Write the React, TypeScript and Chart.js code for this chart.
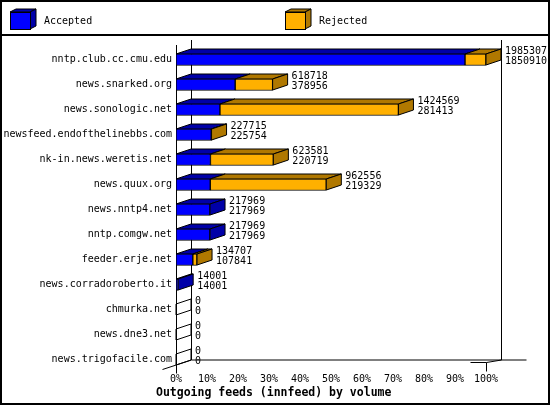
import { useEffect, useRef } from "react";
import { Chart, registerables } from "chart.js";

Chart.register(...registerables);

// feeds, offered articles (top number) and accepted articles (bottom number)
const hosts = [
  "nntp.club.cc.cmu.edu",
  "news.snarked.org",
  "news.sonologic.net",
  "newsfeed.endofthelinebbs.com",
  "nk-in.news.weretis.net",
  "news.quux.org",
  "news.nntp4.net",
  "nntp.comgw.net",
  "feeder.erje.net",
  "news.corradoroberto.it",
  "chmurka.net",
  "news.dne3.net",
  "news.trigofacile.com",
];
const offered = [1985307, 618718, 1424569, 227715, 623581, 962556, 217969, 217969, 134707, 14001, 0, 0, 0];
const accepted = [1850910, 378956, 281413, 225754, 220719, 219329, 217969, 217969, 107841, 14001, 0, 0, 0];
const xTicks = [0, 10, 20, 30, 40, 50, 60, 70, 80, 90, 100];

const seriesNames = ["Accepted", "Rejected"];
const frontColors = ["#0000ff", "#ffb000"];
const darkColors = ["#0000a8", "#b07800"];

const DX = 15;
const DY = 5;
const MONO = '"DejaVu Sans Mono", "Liberation Mono", monospace';

const maxOffered = Math.max(...offered);
const acceptedPct = accepted.map((v) => (v / maxOffered) * 100);
const rejectedPct = offered.map((v, i) => ((v - accepted[i]) / maxOffered) * 100);

function poly(ctx: CanvasRenderingContext2D, pts: number[][], fill: string | null) {
  ctx.beginPath();
  ctx.moveTo(pts[0][0], pts[0][1]);
  for (let k = 1; k < pts.length; k++) ctx.lineTo(pts[k][0], pts[k][1]);
  ctx.closePath();
  if (fill) {
    ctx.fillStyle = fill;
    ctx.fill();
  }
  ctx.stroke();
}

function cube(ctx: CanvasRenderingContext2D, x: number, y: number, w: number, h: number, front: string, dark: string) {
  const d = 6;
  const e = 3;
  ctx.strokeStyle = "#000";
  ctx.lineWidth = 1;
  poly(ctx, [[x, y], [x + w, y], [x + w + d, y - e], [x + d, y - e]], dark);
  poly(ctx, [[x + w, y], [x + w + d, y - e], [x + w + d, y + h - e], [x + w, y + h]], dark);
  ctx.fillStyle = front;
  ctx.fillRect(x, y, w, h);
  ctx.strokeRect(x + 0.5, y + 0.5, w, h);
}

const frame3d = {
  id: "frame3d",
  beforeDraw(chart: any) {
    const ctx: CanvasRenderingContext2D = chart.ctx;
    ctx.save();
    ctx.fillStyle = "#fff";
    ctx.fillRect(0, 0, chart.width, chart.height);
    ctx.restore();
  },
  beforeDatasetsDraw(chart: any) {
    const ctx: CanvasRenderingContext2D = chart.ctx;
    const { left, right, bottom } = chart.chartArea;
    const floor = Math.round(bottom) - 7.5;
    const L = Math.round(left) + 0.5;
    const R = Math.round(right) + 0.5;
    ctx.save();
    ctx.strokeStyle = "#000";
    ctx.lineWidth = 1;
    ctx.beginPath();
    // front left wall edge
    ctx.moveTo(L, 45);
    ctx.lineTo(L, floor + 9);
    // back walls
    ctx.moveTo(L + DX, 40);
    ctx.lineTo(L + DX, floor + 0.5 - 5);
    ctx.moveTo(R + DX, 40);
    ctx.lineTo(R + DX, floor + 0.5 - 5);
    // back floor
    ctx.moveTo(L + DX, floor - 4.5);
    ctx.lineTo(R + DX + 25, floor - 4.5);
    // slanted floor edges
    ctx.moveTo(L - 14, floor + 5);
    ctx.lineTo(L + DX, floor - 4.5);
    ctx.moveTo(R - 16, floor - 2);
    ctx.lineTo(R, floor - 2);
    ctx.lineTo(R + DX, floor - 4.5);
    ctx.moveTo(R, floor - 2);
    ctx.lineTo(R, floor + 7);
    ctx.stroke();
    ctx.restore();
  },
  afterDatasetsDraw(chart: any) {
    const ctx: CanvasRenderingContext2D = chart.ctx;
    const metaA = chart.getDatasetMeta(0);
    const metaR = chart.getDatasetMeta(1);
    ctx.save();
    ctx.strokeStyle = "#000";
    ctx.lineWidth = 1;
    hosts.forEach((_, i) => {
      const a = metaA.data[i];
      const r = metaR.data[i];
      const x0 = a.base;
      const xa = a.x;
      const xr = r.x;
      const top = a.y - a.height / 2 + 0.5;
      const bot = a.y + a.height / 2 - 0.5;
      const empty = offered[i] === 0;
      if (accepted[i] > 0) {
        poly(ctx, [[x0, top], [xa, top], [xa + DX, top - DY], [x0 + DX, top - DY]], darkColors[0]);
      }
      if (offered[i] > accepted[i]) {
        poly(ctx, [[xa, top], [xr, top], [xr + DX, top - DY], [xa + DX, top - DY]], darkColors[1]);
      }
      const sideColor = empty ? null : offered[i] > accepted[i] ? darkColors[1] : darkColors[0];
      poly(ctx, [[xr, top], [xr + DX, top - DY], [xr + DX, bot - DY], [xr, bot]], sideColor);

      ctx.fillStyle = "#000";
      ctx.font = "10px " + MONO;
      ctx.textAlign = "left";
      ctx.textBaseline = "middle";
      ctx.fillText(String(offered[i]), xr + DX + 4, a.y - 8.5);
      ctx.fillText(String(accepted[i]), xr + DX + 4, a.y + 2);
    });
    ctx.restore();
  },
  afterDraw(chart: any) {
    const ctx: CanvasRenderingContext2D = chart.ctx;
    ctx.save();
    // outer border and legend separator
    ctx.strokeStyle = "#000";
    ctx.lineWidth = 2;
    ctx.strokeRect(1, 1, chart.width - 2, chart.height - 2);
    ctx.fillStyle = "#000";
    ctx.fillRect(0, 34, chart.width, 2);
    // legend
    const legendX = [10, 285];
    seriesNames.forEach((name, k) => {
      cube(ctx, legendX[k], 12, 20, 17, frontColors[k], darkColors[k]);
      ctx.fillStyle = "#000";
      ctx.font = "10px " + MONO;
      ctx.textAlign = "left";
      ctx.textBaseline = "middle";
      ctx.fillText(name, legendX[k] + 34, 21);
    });
    // caption
    ctx.font = "bold 11.5px " + MONO;
    ctx.textBaseline = "alphabetic";
    ctx.fillText("Outgoing feeds (innfeed) by volume", 156, 396);
    ctx.restore();
  },
};

export default function App() {
  const canvasRef = useRef<HTMLCanvasElement | null>(null);

  useEffect(() => {
    const ctx = canvasRef.current?.getContext("2d");
    if (!ctx) return;

    const chart = new Chart(ctx, {
      type: "bar",
      data: {
        labels: hosts,
        datasets: [
          {
            label: seriesNames[0],
            data: acceptedPct,
            backgroundColor: frontColors[0],
            borderColor: "#000",
            borderWidth: 1,
            borderSkipped: false,
            barThickness: 12,
          },
          {
            label: seriesNames[1],
            data: rejectedPct,
            backgroundColor: frontColors[1],
            borderColor: "#000",
            borderWidth: 1,
            borderSkipped: false,
            barThickness: 12,
          },
        ],
      },
      options: {
        indexAxis: "y",
        responsive: false,
        devicePixelRatio: 1,
        animation: false,
        layout: { padding: { left: 4, right: 64, top: 47, bottom: 21 } },
        plugins: {
          legend: { display: false },
          tooltip: { enabled: false },
        },
        scales: {
          x: {
            stacked: true,
            min: 0,
            max: 100,
            afterBuildTicks: (scale: any) => {
              scale.ticks = xTicks.map((v) => ({ value: v }));
            },
            afterFit: (scale: any) => {
              scale.height = 12;
            },
            ticks: {
              callback: (v: any) => v + "%",
              font: { family: MONO, size: 10 },
              color: "#000",
              padding: 1,
              maxRotation: 0,
              autoSkip: false,
            },
            grid: { display: false, drawTicks: false },
            border: { display: false },
          },
          y: {
            stacked: true,
            afterFit: (scale: any) => {
              scale.width = 172;
            },
            ticks: {
              font: { family: MONO, size: 10 },
              color: "#000",
              padding: 4,
              autoSkip: false,
            },
            grid: { display: false, drawTicks: false },
            border: { display: false },
          },
        },
      } as any,
      plugins: [frame3d],
    });

    return () => {
      chart.destroy();
    };
  }, []);

  return (
    <div style={{ position: "fixed", left: 0, top: 0, width: 550, height: 405 }}>
      <canvas ref={canvasRef} width={550} height={405} style={{ display: "block" }}></canvas>
    </div>
  );
}
